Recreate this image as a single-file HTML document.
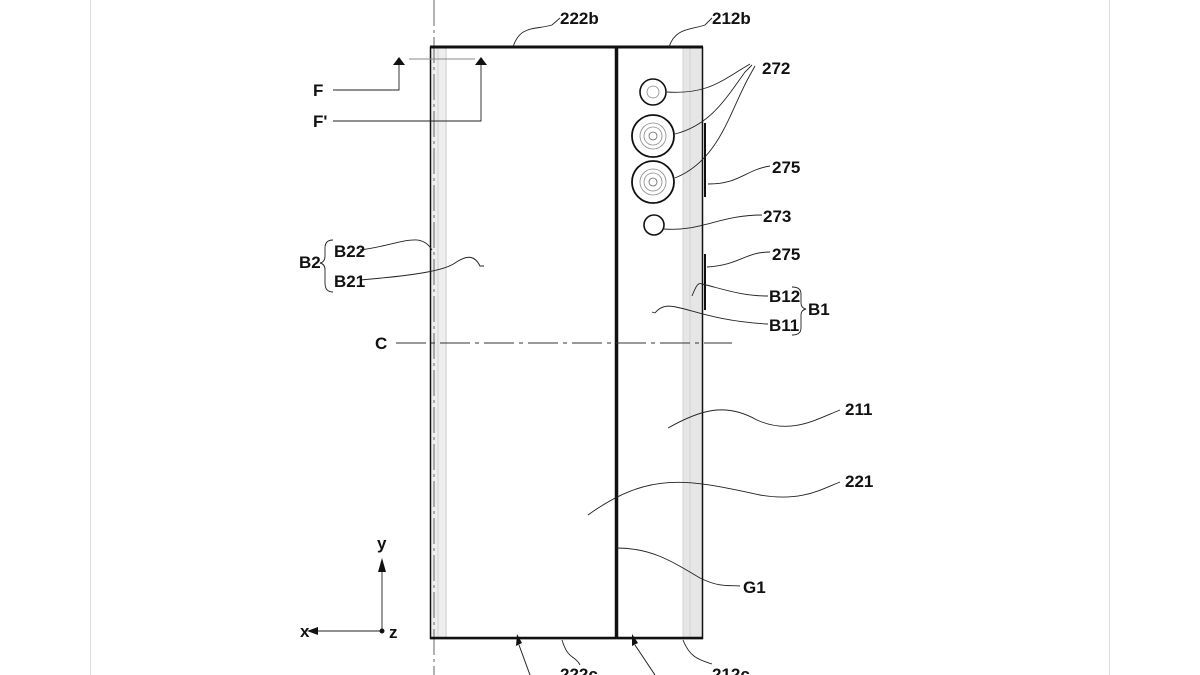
<!DOCTYPE html>
<html><head><meta charset="utf-8"><style>
html,body{margin:0;padding:0;background:#fff;}
svg{display:block}
text{font-family:"Liberation Sans Narrow","Liberation Sans",sans-serif;font-size:17px;font-weight:bold;fill:#111;}
</style></head><body>
<svg width="1200" height="675" viewBox="0 0 1200 675" xmlns="http://www.w3.org/2000/svg">
<rect width="1200" height="675" fill="#fff"/>
<line x1="90.5" y1="0" x2="90.5" y2="675" stroke="#ddd"/>
<line x1="1109.5" y1="0" x2="1109.5" y2="675" stroke="#ddd"/>
<rect x="431" y="48" width="16" height="591" fill="#eee"/>
<rect x="683" y="48" width="19" height="591" fill="#e6e6e6"/>
<g stroke="#ccc" stroke-width="0.8">
<line x1="446" y1="48" x2="446" y2="639"/><line x1="438" y1="48" x2="438" y2="639"/>
<line x1="683" y1="48" x2="683" y2="639"/><line x1="690" y1="48" x2="690" y2="639"/>
</g>
<line x1="434" y1="0" x2="434" y2="675" stroke="#666" stroke-width="1" stroke-dasharray="26,4,3,4"/>
<g fill="none" stroke="#111">
<rect x="430.5" y="47.5" width="185" height="591" stroke-width="1.5"/>
<rect x="617.5" y="47.5" width="85" height="591" stroke-width="1.5"/>
<line x1="430" y1="47" x2="703" y2="47" stroke-width="3"/>
<line x1="430" y1="638" x2="703" y2="638" stroke-width="2.5"/>
<line x1="616" y1="47" x2="616" y2="639" stroke-width="2"/>
<line x1="705" y1="123" x2="705" y2="197" stroke-width="2"/>
<line x1="705" y1="254" x2="705" y2="310" stroke-width="2"/>
<circle cx="653" cy="92" r="13" stroke-width="1.6"/>
<circle cx="653" cy="92" r="6" stroke="#888" stroke-width="0.8"/>
<circle cx="653" cy="136" r="21" stroke-width="1.8"/>
<circle cx="653" cy="136" r="13" stroke="#888" stroke-width="0.8"/>
<circle cx="653" cy="136" r="9" stroke="#888" stroke-width="0.8"/>
<circle cx="653" cy="136" r="4" stroke="#666" stroke-width="0.8"/>
<circle cx="653" cy="182" r="21" stroke-width="1.8"/>
<circle cx="653" cy="182" r="13" stroke="#888" stroke-width="0.8"/>
<circle cx="653" cy="182" r="9" stroke="#888" stroke-width="0.8"/>
<circle cx="653" cy="182" r="4" stroke="#666" stroke-width="0.8"/>
<circle cx="654" cy="225" r="10" stroke-width="1.6"/>
</g>
<line x1="396" y1="343" x2="732" y2="343" stroke="#333" stroke-dasharray="30,5,4,5"/>
<g fill="none" stroke="#222" stroke-width="0.9">
<path d="M513 47 C520 25,535 30,552 25 L560 18"/>
<path d="M669 47 C675 28,690 30,705 25 L712 18"/>
<path d="M667 92 C700 94,715 86,740 70 L750 64"/>
<path d="M675 134 C710 125,725 100,745 72 L752 65"/>
<path d="M675 178 C720 160,730 110,750 75 L755 66"/>
<path d="M708 184 C740 184,745 170,770 166"/>
<path d="M664 229 C700 232,720 215,762 215"/>
<path d="M707 267 C740 265,745 252,770 252"/>
<path d="M702 284 C720 288,740 296,768 296"/>
<path d="M692 296 C696 286,698 282,702 284"/>
<path d="M655 313 C670 294,690 320,768 324"/>
<path d="M655 313 L652 312"/>
<path d="M360 250 C400 245,420 230,432 250"/>
<path d="M360 280 C420 275,445 270,455 263 C468 254,475 256,480 266 L484 266"/>
<path d="M668 428 C700 410,725 402,757 420 C790 435,815 420,840 410"/>
<path d="M588 515 C650 470,690 480,760 495 C800 502,820 490,840 482"/>
<path d="M617 548 C650 548,670 560,700 578 C720 588,730 585,740 586"/>
<path d="M562 640 C568 660,575 655,580 665"/>
<path d="M683 640 C690 658,700 660,712 664"/>
<line x1="409" y1="59" x2="475" y2="59" stroke="#888"/>
<path d="M333 90 H399 V62"/>
<path d="M333 121 H481 V62"/>
<path d="M382 631 V565"/>
<path d="M382 631 H314"/>
<path d="M333 240 Q325 240,325 248 V256 Q325 262,320 263 Q325 264,325 270 V283 Q325 292,333 292"/>
<path d="M792 287 Q801 287,801 294 V303 Q801 308,806 309 Q801 310,801 315 V328 Q801 335,792 335"/>
</g>
<g fill="#111">
<polygon points="393,65 405,65 399,57"/>
<polygon points="475,65 487,65 481,57"/>
<polygon points="378,572 386,572 382,558"/>
<polygon points="318,627 318,635 307,631"/>
<circle cx="382" cy="631" r="2.5"/>
<polygon points="516,646 522,643 517,634"/>
<polygon points="632,646 638,643 632,634"/>
</g>
<line x1="519" y1="645" x2="530" y2="675" stroke="#222"/>
<line x1="635" y1="645" x2="655" y2="675" stroke="#222"/>
<g>
<text x="560" y="24">222b</text>
<text x="712" y="24">212b</text>
<text x="762" y="74">272</text>
<text x="772" y="173">275</text>
<text x="763" y="222">273</text>
<text x="772" y="260">275</text>
<text x="769" y="302">B12</text>
<text x="769" y="331">B11</text>
<text x="808" y="315">B1</text>
<text x="313" y="96">F</text>
<text x="313" y="127">F'</text>
<text x="334" y="257">B22</text>
<text x="334" y="287">B21</text>
<text x="299" y="268">B2</text>
<text x="375" y="349">C</text>
<text x="845" y="415">211</text>
<text x="845" y="487">221</text>
<text x="743" y="593">G1</text>
<text x="377" y="549">y</text>
<text x="300" y="637">x</text>
<text x="389" y="638">z</text>
<text x="560" y="680">222c</text>
<text x="712" y="680">212c</text>
</g>
</svg>
</body></html>
